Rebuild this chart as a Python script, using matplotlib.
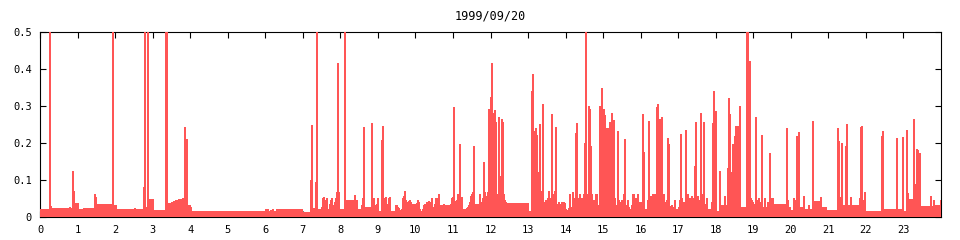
import numpy as np
import matplotlib
matplotlib.use("Agg")
import matplotlib.pyplot as plt

# ---- data (hours, value) ----
title = "1999/09/20"
x_ticks = list(range(24))
y_ticks = [0, 0.1, 0.2, 0.3, 0.4, 0.5]
y_tick_labels = ["0", "0.1", "0.2", "0.3", "0.4", "0.5"]

# base level segments: level holds from start hour until next start
base_start = [0.0, 0.29, 0.9, 1.01, 1.15, 1.49, 1.95, 2.03, 2.88, 3.01, 3.39, 3.49, 3.545, 3.6,
              3.68, 3.785, 3.92, 4.02, 6.45, 7.0, 7.25, 7.37, 7.98, 8.12, 8.45, 8.62, 9.0, 9.32,
              9.46, 9.56, 9.88, 10.12, 10.28, 10.62, 11.58, 12.41, 13.005, 13.09, 14.7, 15.95,
              16.09, 17.76, 18.01, 18.65, 19.55, 19.93, 20.0, 20.245, 20.38, 20.6, 20.82, 20.97,
              21.32, 21.62, 21.99, 22.47, 23.0, 23.11, 23.44, 23.81]
base_level = [0.02, 0.022, 0.036, 0.02, 0.022, 0.033, 0.03, 0.02, 0.046, 0.017, 0.036, 0.038,
              0.042, 0.044, 0.046, 0.049, 0.03, 0.014, 0.019, 0.0135, 0.022, 0.02, 0.02, 0.045,
              0.02, 0.027, 0.015, 0.015, 0.03, 0.018, 0.035, 0.015, 0.04, 0.03, 0.035, 0.036,
              0.016, 0.04, 0.045, 0.04, 0.02, 0.02, 0.015, 0.025, 0.034, 0.025, 0.018, 0.025,
              0.02, 0.041, 0.025, 0.017, 0.03, 0.032, 0.015, 0.02, 0.015, 0.048, 0.028, 0.03]

# individual readings (spikes) that differ from the base level
t_00_08 = [0.249, 0.275, 0.77, 0.853, 0.88, 1.44, 1.466, 1.76, 1.918, 2.505, 2.745, 2.77, 2.798,
           2.825, 2.85, 3.34, 3.365, 3.84, 3.866, 3.89, 4.005, 5.99, 6.05, 6.12, 6.2, 6.28, 6.35,
           6.4, 7.204, 7.231, 7.338, 7.364, 7.498, 7.524, 7.551, 7.578, 7.604, 7.631, 7.711,
           7.737, 7.764, 7.817, 7.844, 7.871, 7.897, 7.924, 7.95]
v_00_08 = [0.6, 0.028, 0.025, 0.122, 0.07, 0.06, 0.052, 0.03, 0.6, 0.023, 0.081, 0.6, 0.025,
           0.027, 0.6, 0.6, 0.6, 0.241, 0.098, 0.21, 0.027, 0.02, 0.02, 0.018, 0.02, 0.02, 0.02,
           0.02, 0.10, 0.247, 0.092, 0.6, 0.027, 0.05, 0.052, 0.03, 0.045, 0.051, 0.033,
           0.045, 0.05, 0.03, 0.04, 0.05, 0.066, 0.416, 0.067]

t_08_13 = [8.11, 8.377, 8.554, 8.581, 8.607, 8.831, 8.858, 8.884, 8.911, 8.938, 8.964, 8.991,
           9.097, 9.124, 9.151, 9.177, 9.204, 9.231, 9.257, 9.284, 9.311, 9.524, 9.55, 9.63,
           9.657, 9.684, 9.71, 9.737, 9.763, 9.79, 9.817, 9.843, 9.87, 10.03, 10.056, 10.083,
           10.11, 10.19, 10.216, 10.243, 10.27, 10.35, 10.376, 10.403, 10.43, 10.456, 10.483,
           10.509, 10.536, 10.563, 10.589, 10.616, 10.74, 10.936, 10.963, 10.99, 11.016, 11.043,
           11.07, 11.096, 11.123, 11.149, 11.176, 11.203, 11.229, 11.256, 11.282, 11.309, 11.336,
           11.362, 11.389, 11.416, 11.442, 11.469, 11.496, 11.522, 11.549, 11.709, 11.735,
           11.762, 11.789, 11.815, 11.842, 11.869, 11.895, 11.922, 11.948, 11.975, 12.002,
           12.028, 12.055, 12.082, 12.108, 12.135, 12.162, 12.188, 12.215, 12.242, 12.268,
           12.295, 12.321, 12.348, 12.375, 12.401]
v_08_13 = [0.6, 0.058, 0.03, 0.05, 0.243, 0.254, 0.04, 0.05, 0.02, 0.03, 0.035, 0.05,
           0.206, 0.244, 0.02, 0.05, 0.052, 0.02, 0.035, 0.05, 0.052, 0.025, 0.022, 0.02,
           0.05, 0.055, 0.07, 0.045, 0.035, 0.04, 0.043, 0.045, 0.04, 0.037, 0.045, 0.04,
           0.02, 0.02, 0.03, 0.035, 0.03, 0.042, 0.04, 0.03, 0.05, 0.025, 0.025,
           0.035, 0.05, 0.03, 0.05, 0.06, 0.035, 0.035, 0.05, 0.052, 0.295, 0.04,
           0.043, 0.045, 0.06, 0.045, 0.195, 0.05, 0.052, 0.015, 0.02, 0.017, 0.02,
           0.022, 0.025, 0.03, 0.04, 0.055, 0.06, 0.065, 0.19, 0.06, 0.04,
           0.03, 0.05, 0.147, 0.065, 0.055, 0.02, 0.065, 0.29, 0.255, 0.323,
           0.414, 0.055, 0.28, 0.287, 0.255, 0.04, 0.06, 0.27, 0.02, 0.11,
           0.263, 0.255, 0.06, 0.045, 0.04]

t_13_17 = [13.096, 13.122, 13.149, 13.175, 13.202, 13.229, 13.255, 13.282, 13.309, 13.335,
           13.362, 13.389, 13.415, 13.442, 13.469, 13.495, 13.522, 13.548, 13.575, 13.602,
           13.628, 13.655, 13.682, 13.708, 13.735, 13.762, 13.788, 13.815, 13.841, 13.868,
           13.975, 14.001, 14.028, 14.055, 14.081, 14.108, 14.135, 14.161, 14.188, 14.214,
           14.241, 14.268, 14.294, 14.321, 14.348, 14.374, 14.401, 14.428, 14.454, 14.481,
           14.507, 14.534, 14.561, 14.587, 14.614, 14.641, 14.667, 14.694, 14.8, 14.827,
           14.854, 14.88, 14.907, 14.934, 14.96, 14.987, 15.014, 15.04, 15.067, 15.093, 15.12,
           15.147, 15.173, 15.2, 15.227, 15.253, 15.28, 15.307, 15.334, 15.36, 15.387, 15.414,
           15.44, 15.467, 15.494, 15.52, 15.547, 15.574, 15.6, 15.627, 15.653, 15.68, 15.707,
           15.733, 15.76, 15.787, 15.813, 15.84, 15.867, 15.893, 15.92, 15.947, 16.026, 16.053,
           16.08, 16.186, 16.213, 16.24, 16.266, 16.293, 16.32, 16.346, 16.373, 16.399, 16.426,
           16.453, 16.479, 16.506, 16.533, 16.559, 16.586, 16.613, 16.639, 16.666, 16.692,
           16.719, 16.746, 16.772, 16.799, 16.826, 16.852, 16.879, 16.906, 16.932, 16.959,
           16.985]
v_13_17 = [0.338, 0.384, 0.23, 0.23, 0.24, 0.22, 0.12, 0.02, 0.25, 0.06,
           0.07, 0.303, 0.035, 0.04, 0.045, 0.04, 0.05, 0.07, 0.025, 0.05,
           0.278, 0.06, 0.06, 0.068, 0.243, 0.025, 0.035, 0.038, 0.035, 0.03,
           0.037, 0.02, 0.015, 0.018, 0.022, 0.06, 0.025, 0.025, 0.065, 0.045,
           0.05, 0.225, 0.254, 0.035, 0.05, 0.06, 0.035, 0.05, 0.05, 0.06,
           0.2, 0.6, 0.06, 0.05, 0.3, 0.29, 0.19, 0.06, 0.06, 0.06,
           0.025, 0.03, 0.3, 0.08, 0.346, 0.06, 0.29, 0.273, 0.24, 0.24, 0.21,
           0.24, 0.255, 0.06, 0.28, 0.07, 0.26, 0.05, 0.03, 0.025, 0.23, 0.045,
           0.03, 0.04, 0.045, 0.025, 0.06, 0.21, 0.03, 0.03, 0.045, 0.025, 0.02,
           0.02, 0.03, 0.06, 0.06, 0.045, 0.05, 0.04, 0.06, 0.04, 0.02, 0.277,
           0.174, 0.045, 0.258, 0.055, 0.055, 0.03, 0.06, 0.035, 0.06, 0.045, 0.295,
           0.304, 0.12, 0.263, 0.05, 0.27, 0.055, 0.06, 0.04, 0.04, 0.045,
           0.212, 0.195, 0.025, 0.028, 0.03, 0.025, 0.025, 0.045, 0.015, 0.02,
           0.015]

t_17_20 = [17.012, 17.039, 17.065, 17.092, 17.119, 17.145, 17.172, 17.198, 17.225, 17.252,
           17.278, 17.305, 17.332, 17.358, 17.385, 17.412, 17.438, 17.465, 17.492, 17.519,
           17.545, 17.572, 17.599, 17.625, 17.652, 17.679, 17.705, 17.732, 17.759, 17.892,
           17.918, 17.945, 17.972, 17.998, 18.105, 18.132, 18.158, 18.185, 18.211, 18.238,
           18.265, 18.291, 18.318, 18.345, 18.371, 18.398, 18.425, 18.451, 18.478, 18.504,
           18.531, 18.558, 18.584, 18.611, 18.638, 18.824, 18.851, 18.877, 18.904, 18.931,
           18.957, 18.984, 19.011, 19.037, 19.064, 19.09, 19.117, 19.144, 19.17, 19.197,
           19.224, 19.25, 19.277, 19.304, 19.33, 19.357, 19.384, 19.41, 19.437, 19.463,
           19.49, 19.517, 19.543, 19.899, 19.925]
v_17_20 = [0.025, 0.045, 0.222, 0.05, 0.04, 0.04, 0.04, 0.233, 0.045, 0.06,
           0.05, 0.05, 0.04, 0.055, 0.05, 0.05, 0.137, 0.255, 0.04, 0.055,
           0.03, 0.045, 0.28, 0.06, 0.055, 0.255, 0.035, 0.02, 0.05, 0.04,
           0.253, 0.34, 0.05, 0.285, 0.123, 0.02, 0.03, 0.03, 0.02, 0.055,
           0.03, 0.03, 0.13, 0.32, 0.277, 0.12, 0.06, 0.195, 0.163, 0.218,
           0.245, 0.035, 0.245, 0.05, 0.298, 0.6, 0.6, 0.2, 0.42, 0.05,
           0.045, 0.04, 0.035, 0.015, 0.268, 0.045, 0.04, 0.05, 0.04, 0.04,
           0.22, 0.02, 0.025, 0.05, 0.02, 0.025, 0.04, 0.02, 0.171, 0.05,
           0.04, 0.05, 0.035, 0.239, 0.045]

t_20_24 = [20.07, 20.12, 20.165, 20.218, 20.35, 20.47, 20.58, 20.796, 21.257, 21.284, 21.31,
           21.364, 21.39, 21.47, 21.497, 21.6, 21.85, 21.87, 21.897, 21.924, 21.977, 22.43,
           22.456, 22.83, 22.99, 23.096, 23.125, 23.27, 23.297, 23.323, 23.353, 23.38, 23.405,
           23.43, 23.726, 23.806, 23.99]
v_20_24 = [0.05, 0.045, 0.218, 0.228, 0.055, 0.03, 0.258, 0.053, 0.239, 0.204, 0.053,
           0.2, 0.03, 0.19, 0.25, 0.053, 0.05, 0.241, 0.245, 0.045, 0.067, 0.217,
           0.231, 0.212, 0.215, 0.233, 0.063, 0.263, 0.088, 0.055, 0.182, 0.18, 0.05,
           0.171, 0.055, 0.045, 0.045]

# ---- build the stepped series ----
n_bins = 900
edges = np.linspace(0, 24, n_bins + 1)
centers = (edges[:-1] + edges[1:]) / 2
seg = np.searchsorted(base_start, centers, side="right") - 1
values = np.asarray(base_level, dtype=float)[seg]
for ts, vs in [(t_00_08, v_00_08), (t_08_13, v_08_13), (t_13_17, v_13_17),
               (t_17_20, v_17_20), (t_20_24, v_20_24)]:
    for t, v in zip(ts, vs):
        values[min(int(round(t * n_bins / 24)), n_bins - 1)] = v

# ---- draw ----
mono = "DejaVu Sans Mono"
fig = plt.figure(figsize=(9.6, 2.4), dpi=100)
ax = fig.add_axes([40 / 960, 1 - 217 / 240, 901 / 960, 185 / 240])
ax.stairs(values, edges, fill=True, color="#ff5555", linewidth=0,
          antialiased=False, zorder=3)
ax.set_xlim(0, 24)
ax.set_ylim(0, 0.5)
ax.set_xticks(x_ticks)
ax.set_xticklabels([str(t) for t in x_ticks], family=mono, fontsize=7.5)
ax.set_yticks(y_ticks)
ax.set_yticklabels(y_tick_labels, family=mono, fontsize=7.5)
ax.tick_params(direction="in", length=4, width=0.8, top=True, right=True, pad=6)
for s in ax.spines.values():
    s.set_linewidth(0.8)
ax.set_title(title, family=mono, fontsize=8.5, pad=9)
fig.savefig("out.png", dpi=100)
